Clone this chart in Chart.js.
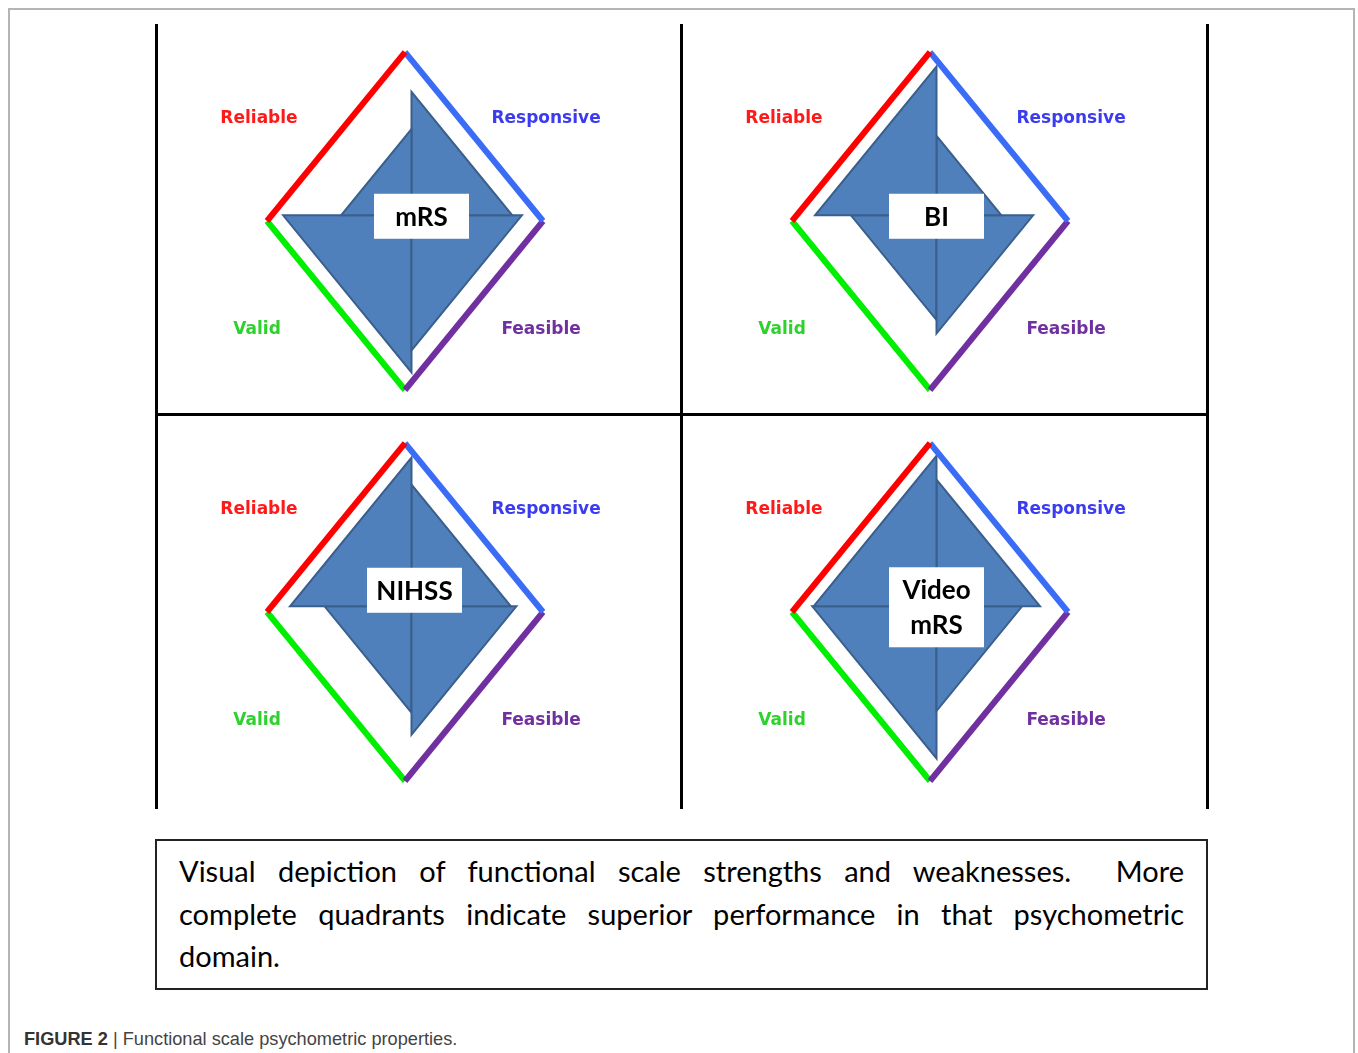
<!DOCTYPE html>
<html>
<head>
<meta charset="utf-8">
<script src="https://cdn.jsdelivr.net/npm/chart.js@4.4.1/dist/chart.umd.min.js"></script>
<style>
  body { margin: 0; background: #fff; width: 1358px; height: 1053px; position: relative; overflow: hidden; }
  #frame { position: absolute; left: 8px; top: 8px; width: 1347px; height: 1100px; border: 2px solid #b4b4b4; box-sizing: border-box; }
  .cell { position: absolute; width: 525px; height: 392px; }
  .rule { position: absolute; background: #000; z-index: 2; }
  #caption { position: absolute; left: 155px; top: 839px; width: 1053px; height: 151px; box-sizing: border-box;
             border: 2px solid #222; padding: 9px 22px 0 22px; font-family: Lato, "Open Sans", sans-serif;
             font-size: 29px; line-height: 42.5px; color: #000; }
  #caption div { text-align: justify; }
  #caption .full { text-align-last: justify; }
  #foot { position: absolute; left: 24px; top: 1029px; font-family: "Liberation Sans", Arial, sans-serif;
          font-size: 18.2px; color: #444; }
  #foot b { color: #333; }
</style>
</head>
<body>
<div id="frame"></div>

<div class="cell" style="left:157px; top:24px;"><canvas id="c0" width="525" height="392"></canvas></div>
<div class="cell" style="left:682px; top:24px;"><canvas id="c1" width="525" height="392"></canvas></div>
<div class="cell" style="left:157px; top:415px;"><canvas id="c2" width="525" height="392"></canvas></div>
<div class="cell" style="left:682px; top:415px;"><canvas id="c3" width="525" height="392"></canvas></div>

<div class="rule" style="left:155px; top:24px; width:3px; height:785px;"></div>
<div class="rule" style="left:680px; top:24px; width:3px; height:785px;"></div>
<div class="rule" style="left:1206px; top:24px; width:3px; height:785px;"></div>
<div class="rule" style="left:155px; top:413px; width:1054px; height:3px;"></div>

<div id="caption">
  <div class="full">Visual depiction of functional scale strengths and weaknesses.&nbsp; More</div>
  <div class="full">complete quadrants indicate superior performance in that psychometric</div>
  <div>domain.</div>
</div>

<div id="foot"><b>FIGURE 2</b> | Functional scale psychometric properties.</div>

<script>
// functional scales, one panel each
const scaleNames = ['mRS', 'BI', 'NIHSS', 'Video\nmRS'];

// how complete each psychometric quadrant is (1 = full diamond)
const reliable   = [0.51, 0.88, 0.88, 0.89];
const responsive = [0.73, 0.47, 0.72, 0.75];
const feasible   = [0.80, 0.70, 0.76, 0.62];
const valid      = [0.93, 0.62, 0.63, 0.90];

const domains = ['Reliable', 'Responsive', 'Feasible', 'Valid'];
const domainValues = [reliable, responsive, feasible, valid];

// layout stuff (not data)
const quadSign = [[-1, 1], [1, 1], [1, -1], [-1, -1]];
const lineColors = ['#ff0000', '#3a6cf6', '#7030a0', '#00ee00'];
const textColors = ['#ff1a1a', '#3b3bf0', '#7030a0', '#2ed12e'];
const labelSpots = [[-1.058, 0.608], [1.022, 0.608], [0.986, -0.642], [-1.072, -0.642]];
const fillOrigin = [0.047, 0.034];
const boxShift = [[10, 1], [0, 1], [3, -16], [0, 1]];

const labelPlugin = {
  id: 'quadLabels',
  afterDatasetsDraw(chart, args, opts) {
    const { ctx, scales: { x, y } } = chart;
    ctx.save();
    ctx.textAlign = 'center';
    ctx.textBaseline = 'middle';
    ctx.font = 'bold 17px "DejaVu Sans"';
    domains.forEach((d, i) => {
      ctx.fillStyle = textColors[i];
      ctx.fillText(d, x.getPixelForValue(labelSpots[i][0]), y.getPixelForValue(labelSpots[i][1]));
    });

    // white box with the scale name
    const lines = opts.name.split('\n');
    const cx = x.getPixelForValue(fillOrigin[0]) + opts.shift[0];
    const cy = y.getPixelForValue(fillOrigin[1]) + opts.shift[1];
    const w = 95, h = 10 + lines.length * 35;
    ctx.fillStyle = '#fff';
    ctx.fillRect(cx - w / 2, cy - h / 2, w, h);
    ctx.fillStyle = '#000';
    ctx.font = 'bold 26px Lato';
    lines.forEach((t, k) => {
      ctx.fillText(t, cx, cy - (lines.length - 1) * 17.5 + k * 35 + 1);
    });
    ctx.restore();
  }
};

function buildDatasets(p) {
  const sets = [];
  const [ox, oy] = fillOrigin;
  // outer diamond, one coloured edge per domain
  quadSign.forEach((s, i) => {
    sets.push({
      data: [{ x: s[0], y: 0 }, { x: 0, y: s[1] }],
      borderColor: lineColors[i],
      borderWidth: 6,
      borderCapStyle: 'butt',
      pointRadius: 0,
      fill: false
    });
  });
  // filled quadrant triangles
  quadSign.forEach((s, i) => {
    const v = domainValues[i][p];
    sets.push({
      data: [{ x: ox, y: oy }, { x: ox, y: oy + s[1] * v }, { x: ox + s[0] * v, y: oy }, { x: ox, y: oy }],
      borderColor: '#3a5f8c',
      borderWidth: 2,
      backgroundColor: '#4f80bc',
      borderJoinStyle: 'miter',
      pointRadius: 0,
      fill: 'shape'
    });
  });
  return sets;
}

scaleNames.forEach((name, p) => {
  new Chart(document.getElementById('c' + p), {
    type: 'line',
    data: { datasets: buildDatasets(p) },
    options: {
      responsive: false,
      animation: false,
      events: [],
      layout: { padding: 0 },
      elements: { line: { tension: 0 } },
      plugins: {
        legend: { display: false },
        tooltip: { enabled: false },
        quadLabels: { name: name, shift: boxShift[p] }
      },
      scales: {
        x: { type: 'linear', display: false, min: -1.797, max: 2.007 },
        y: { type: 'linear', display: false, min: -1.154, max: 1.166 }
      }
    },
    plugins: [labelPlugin]
  });
});
</script>
</body>
</html>
